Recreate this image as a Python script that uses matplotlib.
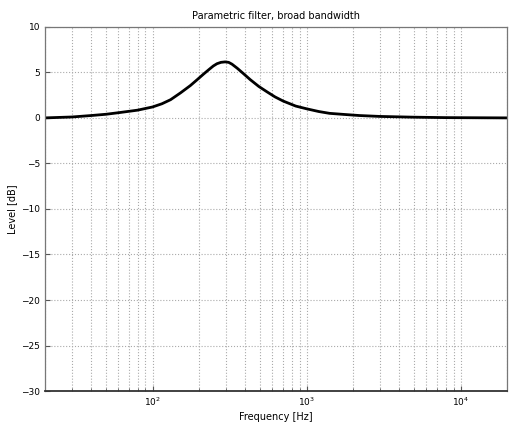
import numpy as np
import matplotlib
matplotlib.use("Agg")
from matplotlib import pyplot as plt
from matplotlib.ticker import LogLocator, FixedLocator, NullFormatter

# values
freq_hz = [20, 30, 40, 50, 62, 80, 100, 115, 131, 152, 176, 195, 214, 232, 248, 262, 278,
           296, 312, 328, 355, 390, 431, 490, 555, 625, 705, 850, 1000, 1200, 1410, 1750,
           2200, 3000, 4900, 8000, 20000]
level_db = [0.0, 0.1, 0.26, 0.4, 0.6, 0.85, 1.2, 1.55, 2.0, 2.75, 3.55, 4.2, 4.8, 5.3, 5.7,
            5.95, 6.1, 6.15, 6.1, 5.9, 5.45, 4.85, 4.2, 3.45, 2.85, 2.3, 1.85, 1.3, 1.0, 0.7,
            0.5, 0.38, 0.26, 0.16, 0.08, 0.03, 0.0]
y_ticks = [-30, -25, -20, -15, -10, -5, 0, 5, 10]
x_ticks = [100, 1000, 10000]

fig = plt.figure(figsize=(5.1, 4.26), dpi=100)
ax = fig.add_axes([0.088, 0.082, 0.906, 0.855])

ax.semilogx(freq_hz, level_db, color="black", linewidth=2.0)

ax.set_xlim(20, 20000)
ax.set_ylim(-30, 10)
ax.yaxis.set_major_locator(FixedLocator(y_ticks))
ax.xaxis.set_major_locator(FixedLocator(x_ticks))
ax.xaxis.set_minor_locator(LogLocator(base=10, subs=np.arange(2, 10)))
ax.xaxis.set_minor_formatter(NullFormatter())
ax.set_xticklabels([r"$10^2$", r"$10^3$", r"$10^4$"])

ax.grid(True, which="major", color="#aaaaaa", linestyle=":", linewidth=0.8)
ax.grid(True, which="minor", axis="x", color="#aaaaaa", linestyle=":", linewidth=0.8)

ax.tick_params(which="both", direction="in", labelsize=6.5, color="#555555")
ax.tick_params(which="minor", length=2)
for s in ax.spines.values():
    s.set_color("#777777")
    s.set_linewidth(0.9)
ax.spines["bottom"].set_color("#333333")
ax.spines["bottom"].set_linewidth(1.3)

ax.set_title("Parametric filter, broad bandwidth", fontsize=7, pad=6)
ax.set_xlabel("Frequency [Hz]", fontsize=7, labelpad=3)
ax.set_ylabel("Level [dB]", fontsize=7, labelpad=3)

fig.savefig("out.png", dpi=100)
